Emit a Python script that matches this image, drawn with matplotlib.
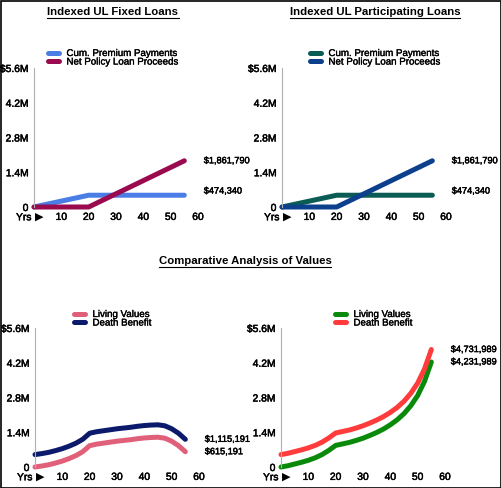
import matplotlib
matplotlib.use("Agg")
import matplotlib.pyplot as plt
from matplotlib.lines import Line2D
import matplotlib.patheffects as pe

plt.rcParams['font.family'] = ['Liberation Sans', 'DejaVu Sans']

# ---------------- data ----------------
loan_years = [0, 20, 55]
cum_premium = [0, 474340, 474340]
net_loan = [0, 0, 1861790]

val_years = [0, 2.5, 5, 7.5, 10, 12.5, 15, 17.5, 20, 22.5, 25, 27.5, 30, 32.5,
             35, 37.5, 40, 42.5, 45, 47.5, 50, 52.5, 55]
living_fixed = [0, 40000, 90000, 160000, 240000, 340000, 460000, 620000, 860000,
                920000, 960000, 1000000, 1040000, 1070000, 1100000, 1140000,
                1170000, 1190000, 1200000, 1160000, 1040000, 860000, 615191]
death_fixed = [500000, 540000, 590000, 660000, 740000, 840000, 960000, 1120000,
               1360000, 1420000, 1460000, 1500000, 1540000, 1570000, 1600000,
               1640000, 1670000, 1690000, 1700000, 1660000, 1540000, 1360000,
               1115191]
living_part = [0, 50000, 120000, 190000, 270000, 370000, 500000, 670000, 870000,
               930000, 990000, 1070000, 1160000, 1270000, 1390000, 1530000,
               1700000, 1900000, 2150000, 2470000, 2880000, 3450000, 4231989]
death_part = [500000, 550000, 620000, 690000, 770000, 870000, 1000000, 1170000,
              1370000, 1430000, 1490000, 1570000, 1660000, 1770000, 1890000,
              2030000, 2200000, 2400000, 2650000, 2970000, 3380000, 3950000,
              4731989]

y_ticks = [0, 1400000, 2800000, 4200000, 5600000]
y_tick_labels = ['0', '1.4M', '2.8M', '4.2M', '$5.6M']
x_ticks = [10, 20, 30, 40, 50, 60]

W, H = 502, 488
fig = plt.figure(figsize=(W / 100, H / 100), dpi=100)
heavy = [pe.withStroke(linewidth=0.35, foreground='black')]

def px_axes(left, zero_y, width=164, height=139):
    return fig.add_axes([left / W, (H - zero_y) / H, width / W, height / H])

def fmt_money(v):
    return '${:,.0f}'.format(v)

def style_axes(ax):
    ax.set_xlim(0, 60)
    ax.set_ylim(0, 5600000)
    for s in ['top', 'right', 'bottom']:
        ax.spines[s].set_visible(False)
    ax.spines['left'].set_color('#b0b0b0')
    ax.spines['left'].set_linewidth(0.8)
    ax.set_yticks(y_ticks)
    ax.set_yticklabels(y_tick_labels)
    ax.set_xticks(x_ticks)
    ax.set_xticklabels([str(t) for t in x_ticks])
    ax.tick_params(length=0, labelsize=7.4, colors='black', pad=4)
    ax.tick_params(axis='x', pad=3.5)
    for lbl in ax.get_xticklabels() + ax.get_yticklabels():
        lbl.set_path_effects(heavy)
    ax.patch.set_alpha(0)
    ax.text(-0.015, -0.038, 'Yrs', transform=ax.transAxes, ha='right', va='top',
            fontsize=7.4, path_effects=heavy)
    ax.text(0.005, -0.032, '\u25B6', transform=ax.transAxes, ha='left', va='top',
            fontsize=8, family=['DejaVu Sans'])

def panel(left, zero_y, x, s1, s2, c1, c2, l1, l2, legend_px, lbl_offsets=(0, 0)):
    ax = px_axes(left, zero_y)
    style_axes(ax)
    ax.plot(x, s1, color=c1, lw=3.6, solid_capstyle='round', solid_joinstyle='round',
            clip_on=False, label=l1)
    ax.plot(x, s2, color=c2, lw=3.6, solid_capstyle='round', solid_joinstyle='round',
            clip_on=False, label=l2)
    for s, off in zip((s1, s2), lbl_offsets):
        ax.annotate(fmt_money(s[-1]), xy=(x[-1], s[-1]), xytext=(14, off),
                    textcoords='offset points', ha='left', va='center',
                    fontsize=6.6, path_effects=heavy)
    lx, ly = legend_px
    leg = ax.legend(loc='upper left', bbox_to_anchor=(lx / W, 1 - ly / H),
                    bbox_transform=fig.transFigure, frameon=False, fontsize=7,
                    handlelength=1.15, handletextpad=0.75, labelspacing=-0.15,
                    borderpad=0, borderaxespad=0)
    for h in leg.get_lines():
        h.set_linewidth(3.6)
        h.set_solid_capstyle('round')
    for t in leg.get_texts():
        t.set_path_effects([pe.withStroke(linewidth=0.25, foreground='black')])
    return ax

panel(34, 207, loan_years, cum_premium, net_loan, '#4a7de6', '#990a4e',
      'Cum. Premium Payments', 'Net Policy Loan Proceeds', (48, 48), (3, 0))
panel(282, 207, loan_years, cum_premium, net_loan, '#0b5c55', '#0c3f8c',
      'Cum. Premium Payments', 'Net Policy Loan Proceeds', (310, 48), (3, 0))
panel(35, 467, val_years, living_fixed, death_fixed, '#e0607a', '#0c1a6b',
      'Living Values', 'Death Benefit', (74, 309))
panel(281, 467, val_years, living_part, death_part, '#0a8a0a', '#ff3b3b',
      'Living Values', 'Death Benefit', (335, 309))

# titles with underline
titles = [('Indexed UL Fixed Loans', 113, 12),
          ('Indexed UL Participating Loans', 375, 12),
          ('Comparative Analysis of Values', 245, 261)]
txts = []
for t, x, y in titles:
    txts.append(fig.text(x / W, 1 - y / H, t, ha='center', va='center',
                         fontsize=8.2, fontweight='bold'))
fig.canvas.draw()
r = fig.canvas.get_renderer()
for tx in txts:
    bb = tx.get_window_extent(r)
    yl = bb.y0 - 0.5
    fig.add_artist(Line2D([bb.x0 / W, bb.x1 / W], [yl / H, yl / H],
                          transform=fig.transFigure, color='black', lw=0.8))

# outer border
fig.add_artist(plt.Rectangle((0.5 / W, 0.5 / H), 1 - 1.5 / W, 1 - 1.5 / H,
                             transform=fig.transFigure, fill=False,
                             edgecolor='black', lw=1.2))

fig.savefig('out.png', dpi=100)
